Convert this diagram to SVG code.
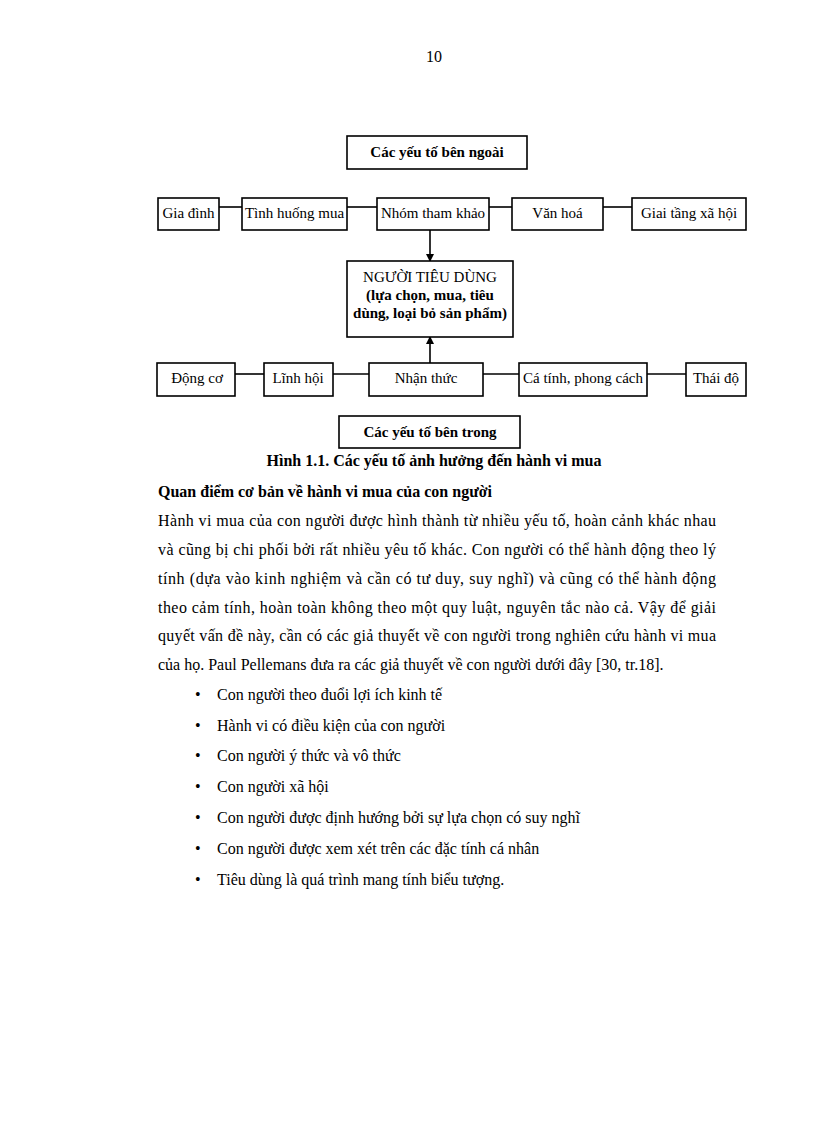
<svg xmlns="http://www.w3.org/2000/svg" width="816" height="1123" viewBox="0 0 816 1123">
<style>
.box{fill:#fff;stroke:#000;stroke-width:1.6}
.lbl{font-family:"Liberation Serif",serif;font-size:15px;fill:#000;text-anchor:middle}
.b{font-weight:bold}
.con{stroke:#000;stroke-width:1.6;fill:none}
.body{font-family:"Liberation Serif",serif;font-size:16px;fill:#000}
</style>
<defs>
<marker id="ah" markerWidth="8" markerHeight="8" refX="7" refY="4" orient="auto" markerUnits="userSpaceOnUse">
<path d="M0,0 L8,4 L0,8 z" fill="#000"/>
</marker>
</defs>
<rect width="816" height="1123" fill="#fff"/>
<text class="body" x="434" y="62" text-anchor="middle">10</text>

<g id="connectors">
<line class="con" x1="219" y1="207" x2="242" y2="207"/>
<line class="con" x1="347" y1="207" x2="377" y2="207"/>
<line class="con" x1="489" y1="207" x2="512" y2="207"/>
<line class="con" x1="603" y1="207" x2="632" y2="207"/>
<line class="con" x1="235" y1="374" x2="264" y2="374"/>
<line class="con" x1="333" y1="374" x2="369" y2="374"/>
<line class="con" x1="483" y1="374" x2="519" y2="374"/>
<line class="con" x1="647" y1="374" x2="686" y2="374"/>
<line class="con" x1="430" y1="230" x2="430" y2="261" marker-end="url(#ah)"/>
<line class="con" x1="430" y1="363" x2="430" y2="337" marker-end="url(#ah)"/>
</g>

<g id="ngoai"><rect class="box" x="347" y="136" width="180" height="33"/><text class="lbl b" x="437" y="157">Các yếu tố bên ngoài</text></g>
<g id="giadinh"><rect class="box" x="158" y="198" width="61" height="32"/><text class="lbl" x="188.5" y="218">Gia đình</text></g>
<g id="tinhhuong"><rect class="box" x="242" y="198" width="105" height="32"/><text class="lbl" x="294.5" y="218">Tình huống mua</text></g>
<g id="nhom"><rect class="box" x="377" y="198" width="112" height="32"/><text class="lbl" x="433" y="218">Nhóm tham khảo</text></g>
<g id="vanhoa"><rect class="box" x="512" y="198" width="91" height="32"/><text class="lbl" x="557.5" y="218">Văn hoá</text></g>
<g id="giaitang"><rect class="box" x="632" y="198" width="114" height="32"/><text class="lbl" x="689" y="218">Giai tầng xã hội</text></g>

<g id="nguoitieudung"><rect class="box" x="347" y="261" width="166" height="76"/>
<text class="lbl" x="430" y="282">NGƯỜI TIÊU DÙNG</text>
<text class="lbl b" x="430" y="300">(lựa chọn, mua, tiêu</text>
<text class="lbl b" x="430" y="318">dùng, loại bỏ sản phẩm)</text></g>

<g id="dongco"><rect class="box" x="157" y="363" width="78" height="33"/><text class="lbl" x="197" y="383">Động cơ</text></g>
<g id="linhhoi"><rect class="box" x="264" y="363" width="69" height="33"/><text class="lbl" x="298" y="383">Lĩnh hội</text></g>
<g id="nhanthuc"><rect class="box" x="369" y="363" width="114" height="33"/><text class="lbl" x="426" y="383">Nhận thức</text></g>
<g id="catinh"><rect class="box" x="519" y="363" width="128" height="33"/><text class="lbl" x="583" y="383">Cá tính, phong cách</text></g>
<g id="thaido"><rect class="box" x="686" y="363" width="60" height="33"/><text class="lbl" x="716" y="383">Thái độ</text></g>

<g id="trong"><rect class="box" x="339" y="416" width="181" height="32"/><text class="lbl b" x="430" y="437">Các yếu tố bên trong</text></g>

<text class="body b" x="434" y="466" text-anchor="middle">Hình 1.1. Các yếu tố ảnh hưởng đến hành vi mua</text>
<text class="body b" x="158" y="497">Quan điểm cơ bản về hành vi mua của con người</text>
<text class="body" x="158" y="526" textLength="558" lengthAdjust="spacing">Hành vi mua của con người được hình thành từ nhiều yếu tố, hoàn cảnh khác nhau</text>
<text class="body" x="158" y="555" textLength="558" lengthAdjust="spacing">và cũng bị chi phối bởi rất nhiều yêu tố khác. Con người có thể hành động theo lý</text>
<text class="body" x="158" y="584" textLength="558" lengthAdjust="spacing">tính (dựa vào kinh nghiệm và cần có tư duy, suy nghĩ) và cũng có thể hành động</text>
<text class="body" x="158" y="613" textLength="558" lengthAdjust="spacing">theo cảm tính, hoàn toàn không theo một quy luật, nguyên tắc nào cả. Vậy để giải</text>
<text class="body" x="158" y="641" textLength="558" lengthAdjust="spacing">quyết vấn đề này, cần có các giả thuyết về con người trong nghiên cứu hành vi mua</text>
<text class="body" x="158" y="670">của họ. Paul Pellemans đưa ra các giả thuyết về con người dưới đây [30, tr.18].</text>

<g class="body">
<text x="195" y="700">•</text><text x="217" y="700">Con người theo đuổi lợi ích kinh tế</text>
<text x="195" y="731">•</text><text x="217" y="731">Hành vi có điều kiện của con người</text>
<text x="195" y="761">•</text><text x="217" y="761">Con người ý thức và vô thức</text>
<text x="195" y="792">•</text><text x="217" y="792">Con người xã hội</text>
<text x="195" y="823">•</text><text x="217" y="823">Con người được định hướng bởi sự lựa chọn có suy nghĩ</text>
<text x="195" y="854">•</text><text x="217" y="854">Con người được xem xét trên các đặc tính cá nhân</text>
<text x="195" y="885">•</text><text x="217" y="885">Tiêu dùng là quá trình mang tính biểu tượng.</text>
</g>
</svg>
